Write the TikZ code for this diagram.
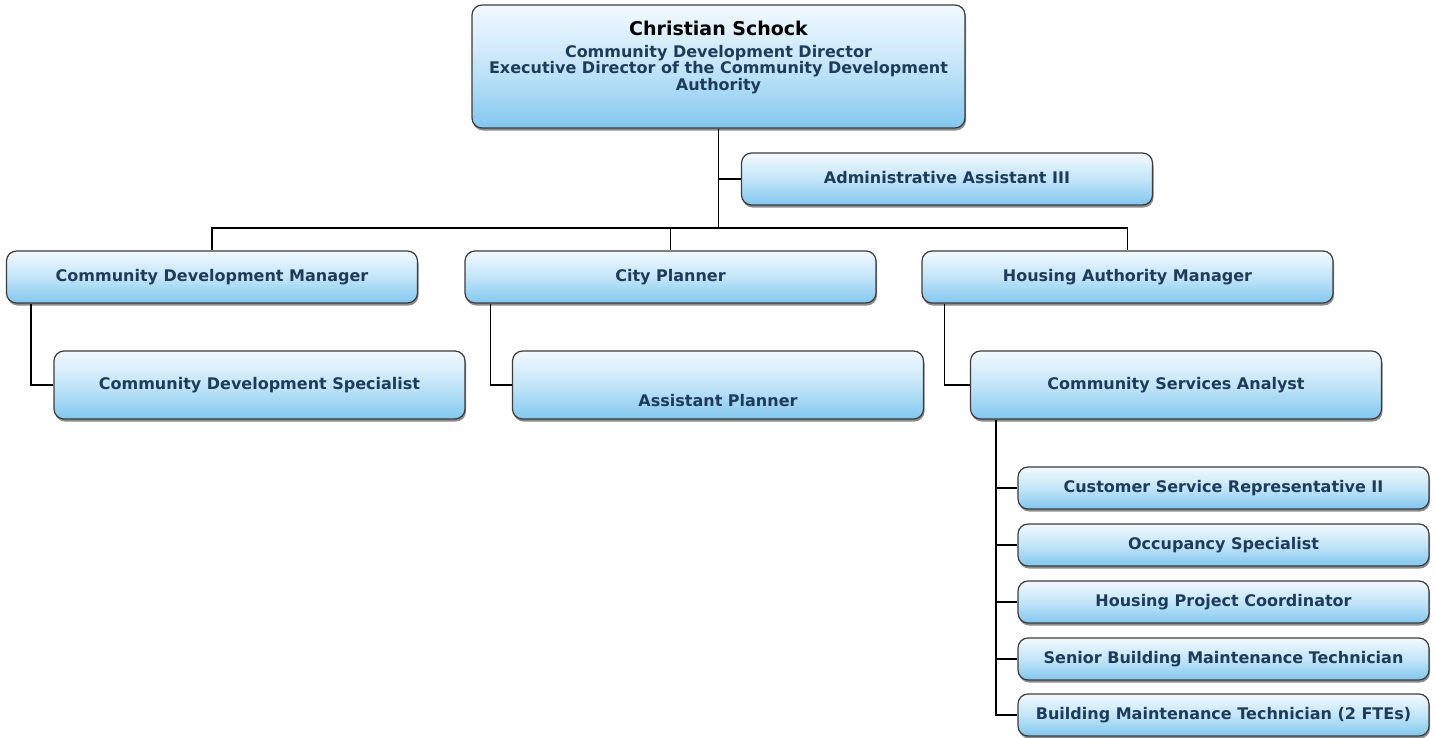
\documentclass[tikz,border=0pt]{standalone}
\usepackage{fontspec}
\setmainfont{DejaVu Sans}
\usetikzlibrary{shadows}
\definecolor{txtblue}{HTML}{1F3B5A}
\definecolor{edgegray}{HTML}{3C3C3C}
\definecolor{topfill}{HTML}{F2F9FE}
\definecolor{midfill}{HTML}{C3E5F8}
\definecolor{botfill}{HTML}{82C7EF}
\begin{document}
\begin{tikzpicture}[x=1pt,y=-1pt,
  orgbox/.style={draw=edgegray, line width=1.2pt, rounded corners=10pt,
    top color=topfill, bottom color=botfill, middle color=midfill,
    drop shadow={shadow xshift=1pt, shadow yshift=-2.5pt, opacity=0.45, fill=black},
    inner sep=0pt, text height=11.7pt, text depth=3.5pt,
    font=\bfseries\fontsize{16}{16}\selectfont, text=txtblue},
  wide/.style={minimum width=411pt},
  mgr/.style={orgbox, wide, minimum height=52pt},
  staff/.style={orgbox, wide, minimum height=68pt},
  sub/.style={orgbox, wide, minimum height=42pt},
  plain/.style={inner sep=0pt, font=\bfseries\fontsize{16}{14.5}\selectfont, text=txtblue, align=center},
  link/.style={draw=black, line width=1.2pt}]
\fill[white] (0,0) rectangle (1435,737);
\useasboundingbox (0,0) rectangle (1435,737);

% director
\node[orgbox, minimum width=493pt, minimum height=123pt] (dir) at (718.5,66.5) {};
\node[inner sep=0pt, font=\bfseries\fontsize{19}{19}\selectfont, text=black] (dirname) at (718.5,28) {Christian Schock};
\node[plain] (dirtitle) at (718.5,69.5) {Community Development Director\\Executive Director of the Community Development\\Authority};

\node[mgr] (admin) at (947,179) {Administrative Assistant III};

% managers
\node[mgr] (cdm) at (212,277) {Community Development Manager};
\node[mgr] (cp) at (670.5,277) {City Planner};
\node[mgr] (ham) at (1127.5,277) {Housing Authority Manager};

% staff
\node[staff] (cds) at (259.5,385) {Community Development Specialist};
\node[staff] (ap) at (718,385) {};
\node[plain] (aptext) at (718,401) {Assistant Planner};
\node[staff] (csa) at (1176,385) {Community Services Analyst};

% housing sub staff
\node[sub] (s1) at (1223.5,488) {Customer Service Representative II};
\node[sub] (s2) at (1223.5,545) {Occupancy Specialist};
\node[sub] (s3) at (1223.5,602) {Housing Project Coordinator};
\node[sub] (s4) at (1223.5,659) {Senior Building Maintenance Technician};
\node[sub] (s5) at (1223.5,715) {Building Maintenance Technician (2 FTEs)};

% connectors
\coordinate (bar) at (718,228);
\draw[link] (dir.south) -- (dir.south |- bar);
\draw[link] (dir.south |- admin.west) -- (admin.west);
\draw[link] (cdm.north) |- (bar) -| (ham.north);
\draw[link] (cp.north) -- (cp.north |- bar);
\draw[link] ([xshift=25pt]cdm.south west) |- (cds.west);
\draw[link] ([xshift=26pt]cp.south west) |- (ap.west);
\draw[link] ([xshift=23pt]ham.south west) |- (csa.west);
\coordinate (trunk) at ([xshift=26pt]csa.south west);
\draw[link] (trunk) |- (s5.west);
\foreach \s in {s1,s2,s3,s4} {\draw[link] (\s.west) -- (\s.west -| trunk);}
\end{tikzpicture}
\end{document}
